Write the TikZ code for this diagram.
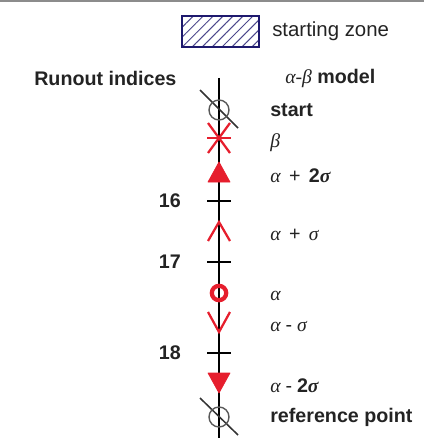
\documentclass[tikz,border=0pt]{standalone}
\usepackage{fontspec}
\setmainfont{Liberation Sans}
\newfontfamily\greekfont{Liberation Serif}
\usetikzlibrary{backgrounds,patterns.meta}
\pgfdeclarelayer{edgelayer}
\pgfdeclarelayer{nodelayer}
\pgfsetlayers{edgelayer,nodelayer,main}
\definecolor{markred}{RGB}{230,30,45}
\definecolor{zoneblue}{RGB}{30,25,110}
\definecolor{ink}{RGB}{35,35,35}
\newcommand{\gk}[1]{{\greekfont\itshape #1}}
\newcommand{\gkb}[1]{{\greekfont\itshape\bfseries #1}}
\newcommand{\op}[1]{\hspace{6pt}#1\hspace{6pt}}
\newcommand{\opm}[1]{\hspace{3.5pt}#1\hspace{3.5pt}}
\tikzset{font=\fontsize{14}{16}\selectfont}
\tikzstyle{none}=[inner sep=0pt]
\tikzstyle{txt}=[inner sep=0pt,anchor=west,text=ink]
\tikzstyle{idx}=[inner sep=0pt,anchor=east,text=ink,font=\fontsize{14}{16}\selectfont\bfseries]
\tikzstyle{cross}=[circle,draw=black!65,line width=1pt,minimum size=0.5cm,inner sep=0pt]
\tikzstyle{ring}=[circle,draw=markred,line width=3pt,minimum size=0.36cm,inner sep=0pt]
\tikzstyle{zone}=[rectangle,draw=zoneblue,line width=1.4pt,minimum width=1.925cm,minimum height=0.775cm,pattern={Lines[angle=45,distance=5pt,line width=0.7pt]},pattern color=zoneblue!80]
\tikzstyle{axis}=[line width=2pt,black]
\tikzstyle{tick}=[line width=1.6pt,black]
\tikzstyle{redline}=[line width=1.6pt,markred]
\tikzstyle{redfill}=[fill=markred,draw=markred,line width=0.5pt,line join=round]
\tikzstyle{slash}=[line width=1.1pt,black!80]
\tikzstyle{edge}=[line width=1.2pt,black!45]

\begin{document}
\begin{tikzpicture}
	\useasboundingbox (0,0) rectangle (10.6,-10.95);
	\begin{pgfonlayer}{nodelayer}
		\node [style=zone] (0) at (5.5125, -0.7875) {};
		\node [style=txt, font=\fontsize{14.5}{16}\selectfont] (1) at (6.8, -0.775) {starting zone};
		\node [style=txt, font=\fontsize{14}{16}\selectfont\bfseries] (2) at (0.85, -1.95) {Runout indices};
		\node [style=txt] (3) at (7.125, -1.95) {\gk{α-β} \textbf{model}};
		\node [style=none] (4) at (5.475, -1.95) {};
		\node [style=none] (5) at (5.475, -10.95) {};
		\node [style=cross] (6) at (5.475, -2.75) {};
		\node [style=none] (7) at (5, -2.25) {};
		\node [style=none] (8) at (5.95, -3.2) {};
		\node [style=txt, font=\fontsize{14}{16}\selectfont\bfseries] (9) at (6.75, -2.75) {start};
		\node [style=none] (10) at (5.475, -3.45) {};
		\node [style=none] (11) at (5.175, -3.45) {};
		\node [style=none] (12) at (5.775, -3.45) {};
		\node [style=none] (13) at (5.2, -3.075) {};
		\node [style=none] (14) at (5.75, -3.075) {};
		\node [style=none] (15) at (5.2, -3.825) {};
		\node [style=none] (16) at (5.75, -3.825) {};
		\node [style=txt] (17) at (6.75, -3.575) {\gk{β}};
		\node [style=none] (18) at (5.475, -4.05) {};
		\node [style=none] (19) at (5.2, -4.55) {};
		\node [style=none] (20) at (5.75, -4.55) {};
		\node [style=txt] (21) at (6.75, -4.4) {\gk{α}\op{+}\textbf{2}\gkb{σ}};
		\node [style=none] (22) at (5.175, -5.025) {};
		\node [style=none] (23) at (5.775, -5.025) {};
		\node [style=idx] (24) at (4.525, -5.025) {16};
		\node [style=none] (25) at (5.475, -5.55) {};
		\node [style=none] (26) at (5.2, -6.025) {};
		\node [style=none] (27) at (5.75, -6.025) {};
		\node [style=txt] (28) at (6.75, -5.875) {\gk{α}\op{+}\gk{σ}};
		\node [style=none] (29) at (5.175, -6.55) {};
		\node [style=none] (30) at (5.775, -6.55) {};
		\node [style=idx] (31) at (4.525, -6.55) {17};
		\node [style=ring] (32) at (5.475, -7.325) {};
		\node [style=txt] (33) at (6.75, -7.4) {\gk{α}};
		\node [style=none] (34) at (5.2, -7.8) {};
		\node [style=none] (35) at (5.75, -7.8) {};
		\node [style=none] (36) at (5.475, -8.3) {};
		\node [style=txt] (37) at (6.75, -8.175) {\gk{α}\opm{-}\gk{σ}};
		\node [style=none] (38) at (5.175, -8.825) {};
		\node [style=none] (39) at (5.775, -8.825) {};
		\node [style=idx] (40) at (4.525, -8.825) {18};
		\node [style=none] (41) at (5.2, -9.325) {};
		\node [style=none] (42) at (5.75, -9.325) {};
		\node [style=none] (43) at (5.475, -9.825) {};
		\node [style=txt] (44) at (6.75, -9.65) {\gk{α}\opm{-}\textbf{2}\gkb{σ}};
		\node [style=cross] (45) at (5.475, -10.425) {};
		\node [style=none] (46) at (5, -9.95) {};
		\node [style=none] (47) at (5.95, -10.875) {};
		\node [style=txt, font=\fontsize{14}{16}\selectfont\bfseries] (48) at (6.75, -10.425) {reference point};
		\node [style=none] (49) at (0, -0.03) {};
		\node [style=none] (50) at (10.6, -0.03) {};
	\end{pgfonlayer}
	\begin{pgfonlayer}{edgelayer}
		\draw [style=edge] (49.center) to (50.center);
		\draw [style=axis] (4.center) to (5.center);
		\draw [style=slash] (7.center) to (8.center);
		\draw [style=redline] (11.center) to (12.center);
		\draw [style=redline] (13.center) to (10.center) to (14.center);
		\draw [style=redline] (15.center) to (10.center) to (16.center);
		\draw [style=redfill] (18.center) to (19.center) to (20.center) to cycle;
		\draw [style=tick] (22.center) to (23.center);
		\draw [style=redline] (26.center) to (25.center) to (27.center);
		\draw [style=tick] (29.center) to (30.center);
		\draw [style=redline] (34.center) to (36.center) to (35.center);
		\draw [style=tick] (38.center) to (39.center);
		\draw [style=redfill] (41.center) to (42.center) to (43.center) to cycle;
		\draw [style=slash] (46.center) to (47.center);
	\end{pgfonlayer}
\end{tikzpicture}
\end{document}
